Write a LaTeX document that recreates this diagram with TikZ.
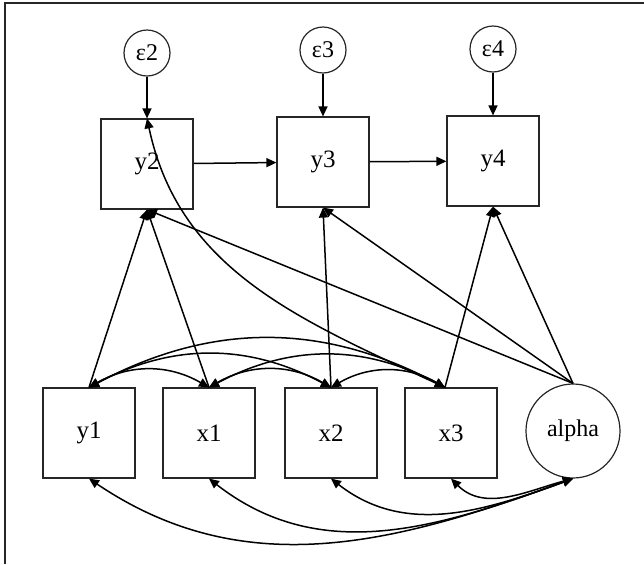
\documentclass[tikz,border=0pt]{standalone}
\usepackage{fontspec}
\setmainfont{Liberation Serif}
\usetikzlibrary{arrows.meta}

\begin{document}
\begin{tikzpicture}[x=0.5pt, y=0.5pt,
		obsbox/.style={rectangle, draw=black!85, line width=0.6pt, minimum width=46pt, minimum height=45pt, inner sep=0pt, font=\fontsize{12.5}{14}\selectfont},
		errcirc/.style={circle, draw=black!85, line width=0.6pt, minimum size=23pt, inner sep=0pt, font=\fontsize{12}{14}\selectfont},
		latcirc/.style={circle, draw=black!85, line width=0.6pt, minimum size=47pt, inner sep=0pt, font=\fontsize{12}{14}\selectfont},
		reg/.style={-{Triangle[length=5pt,width=4.5pt]}, line width=0.75pt},
		cov/.style={{Triangle[length=5pt,width=4.5pt]}-{Triangle[length=5pt,width=4.5pt]}, line width=0.75pt}]
			%%%%% START %%%%%
			
			\useasboundingbox (0, 0) rectangle (644, -564);
			\draw[line width=1pt, color=black!85] (5, -564) -- (5, -3) -- (644, -3);
			
			% errors
			\node[errcirc] (e2) at (147, -53) {ε2};
			\node[errcirc] (e3) at (323, -50) {ε3};
			\node[errcirc] (e4) at (493, -49) {ε4};
			
			% endogenous
			\node[obsbox] (y2) at (147, -164) {y2};
			\node[obsbox] (y3) at (323, -162) {y3};
			\node[obsbox] (y4) at (493, -161) {y4};
			
			% exogenous
			\node[obsbox] (y1) at (89, -433) {y1};
			\node[obsbox] (x1) at (209, -433) {x1};
			\node[obsbox] (x2) at (331, -433) {x2};
			\node[obsbox] (x3) at (451, -433) {x3};
			\node[latcirc] (alpha) at (573, -431) {alpha};
			\coordinate (x3top) at ([xshift=-3pt]x3.north);
			
			\draw[reg] (e2) -- (y2);
			\draw[reg] (e3) -- (y3);
			\draw[reg] (e4) -- (y4);
			
			\draw[reg] (y2) -- (y3);
			\draw[reg] (y3) -- (y4);
			
			\draw[reg] (y1.north) -- (y2.south);
			\draw[reg] (x1.north) -- (y2.south);
			\draw[reg] (alpha.north) -- (y2.south);
			\draw[reg] (x2.north) -- (y3.south);
			\draw[reg] (alpha.north) -- (y3.south);
			\draw[reg] (x3top) -- (y4.south);
			\draw[reg] (alpha.north) -- (y4.south);
			
			\draw[reg] (x3top) to[out=155, in=-78] (y2.north);
			
			% covariances, top
			\draw[cov] (y1.north) to[bend left=30] (x1.north);
			\draw[cov] (y1.north) to[bend left=28] (x2.north);
			\draw[cov] (y1.north) to[bend left=28] (x3top);
			\draw[cov] (x1.north) to[bend left=30] (x2.north);
			\draw[cov] (x1.north) to[bend left=28] (x3top);
			\draw[cov] (x2.north) to[bend left=30] (x3top);
			
			% covariances with alpha
			\draw[cov] (y1.south) to[out=-34, in=-160] (alpha.south);
			\draw[cov] (x1.south) to[out=-38, in=-160] (alpha.south);
			\draw[cov] (x2.south) to[out=-38, in=-160] (alpha.south);
			\draw[cov] (x3.south) to[out=-45, in=-165] (alpha.south);
			
			%%%%% END %%%%%
\end{tikzpicture}
\end{document}
